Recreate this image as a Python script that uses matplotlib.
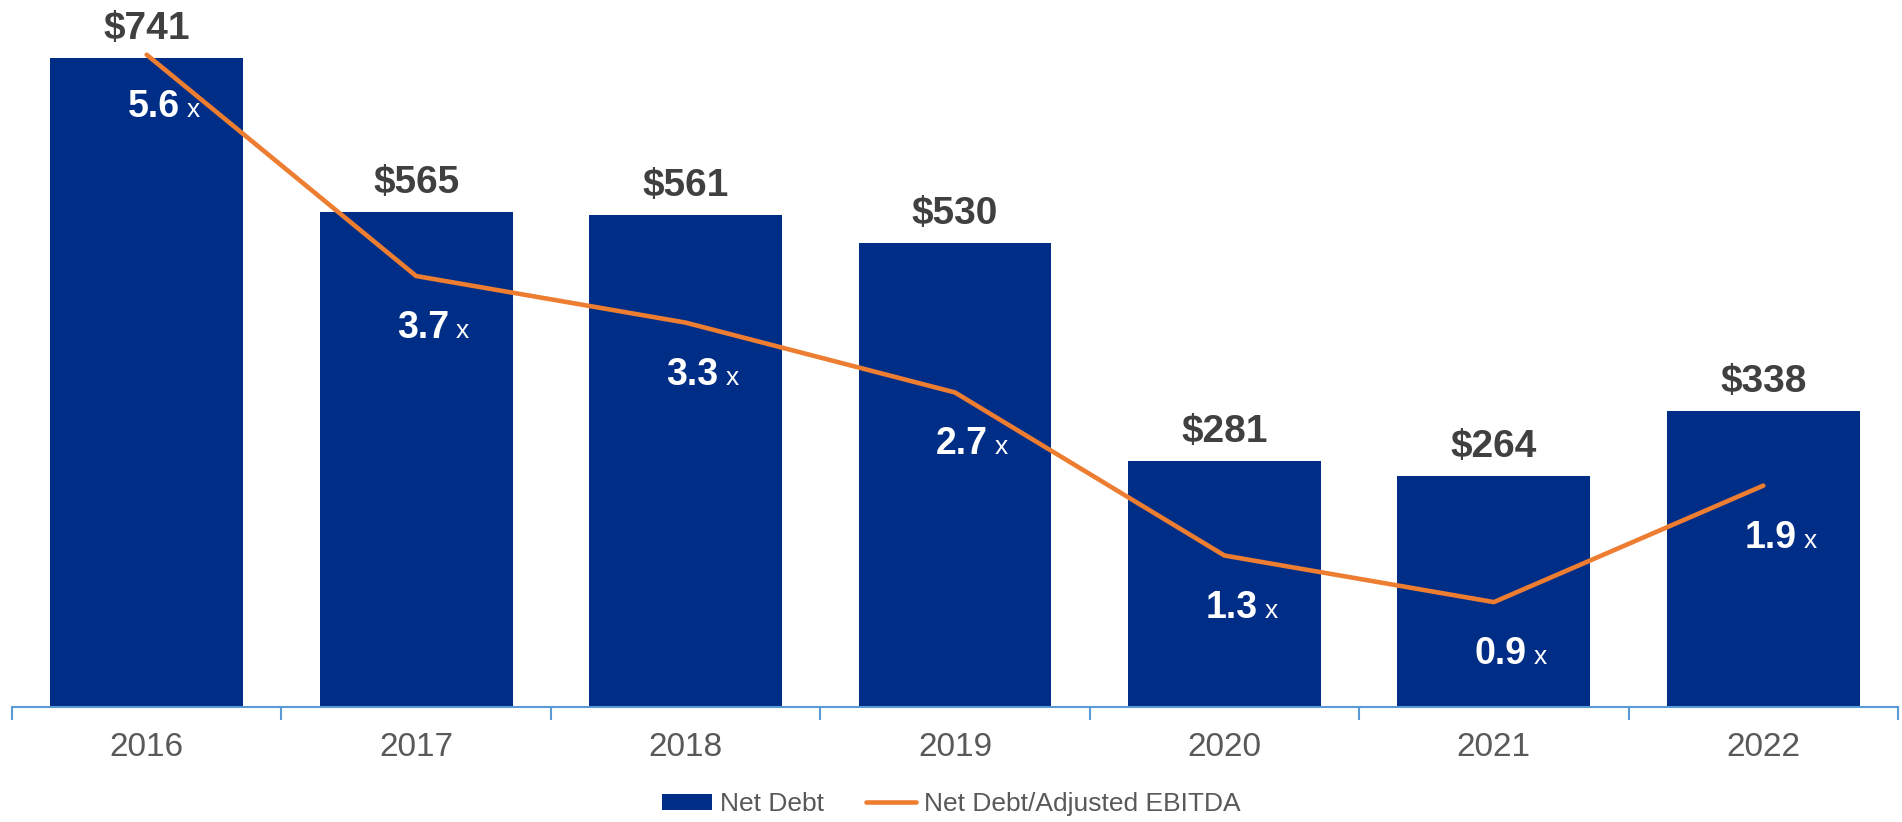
import matplotlib
matplotlib.use("Agg")
import matplotlib.pyplot as plt
from matplotlib.ticker import FixedLocator

years = ["2016", "2017", "2018", "2019", "2020", "2021", "2022"]
net_debt = [741, 565, 561, 530, 281, 264, 338]
leverage = [5.6, 3.7, 3.3, 2.7, 1.3, 0.9, 1.9]

navy = "#002D86"
orange = "#ED7D31"
axis_blue = "#5B9BD5"

plt.rcParams["font.family"] = ["Liberation Sans", "DejaVu Sans"]

fig = plt.figure(figsize=(19.02, 8.22), dpi=100)
ax = fig.add_axes([0.0063, 0.14, 0.9916, 0.86])
x = list(range(len(years)))

ax.bar(x, net_debt, width=0.716, color=navy, label="Net Debt", zorder=2)
ax.set_ylim(0, 807)
ax.set_xlim(-0.5, len(years) - 0.5)

for xi, v in zip(x, net_debt):
    ax.annotate("$%d" % v, (xi, v), xytext=(0, 19), textcoords="offset pixels",
                ha="center", va="baseline", fontsize=28, fontweight="bold",
                color="#404040")

ax2 = ax.twinx()
ax2.plot(x, leverage, color=orange, lw=3.3, label="Net Debt/Adjusted EBITDA",
         solid_capstyle="round", zorder=3)
ax2.set_ylim(0, 6.07)
ax2.axis("off")

for xi, v in zip(x, leverage):
    ax2.annotate("%.1f" % v, (xi, v), xytext=(33, -62), textcoords="offset pixels",
                 ha="right", va="baseline", fontsize=27, fontweight="bold",
                 color="white")
    ax2.annotate("x", (xi, v), xytext=(40, -62), textcoords="offset pixels",
                 ha="left", va="baseline", fontsize=19, color="white")

for s in ["top", "left", "right"]:
    ax.spines[s].set_visible(False)
ax.spines["bottom"].set_color(axis_blue)
ax.spines["bottom"].set_linewidth(1.5)
ax.set_yticks([])
ax.set_xticks(x)
ax.set_xticklabels(years, fontsize=24, color="#595959")
ax.tick_params(axis="x", which="major", length=0, pad=18)
ax.xaxis.set_minor_locator(FixedLocator([i - 0.5 for i in range(len(years) + 1)]))
ax.tick_params(axis="x", which="minor", length=9, width=1.5, color=axis_blue)

h1, l1 = ax.get_legend_handles_labels()
h2, l2 = ax2.get_legend_handles_labels()
fig.legend(h1 + h2, l1 + l2, loc="center", bbox_to_anchor=(0.5, 1 - 804 / 822),
           ncol=2, frameon=False, fontsize=19, labelcolor="#595959",
           handlelength=1.9, handleheight=0.55, handletextpad=0.3,
           columnspacing=1.6)

fig.savefig("out.png", dpi=100)
